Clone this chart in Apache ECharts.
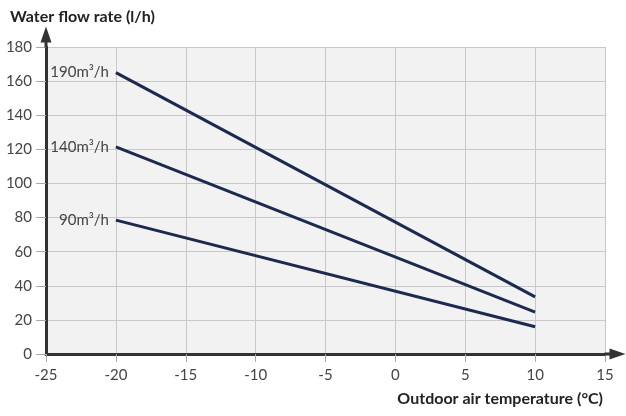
<!DOCTYPE html>
<html>
<head>
<meta charset="utf-8">
<script src="https://cdn.jsdelivr.net/npm/echarts@6/dist/echarts.min.js"></script>
<style>html,body{margin:0;padding:0;background:#fff}#c{width:626px;height:416px}</style>
</head>
<body>
<div id="c"></div>
<script>
var temps = [-20, 10];
var flow190 = [165, 33.5];
var flow140 = [121.5, 24.5];
var flow90 = [78.5, 16];
var seriesNames = ['190m³/h', '140m³/h', '90m³/h'];
var yTitle = 'Water flow rate (l/h)';
var xTitle = 'Outdoor air temperature (°C)';

var FONT = 'Lato';
var lineColor = '#1c2a50';
var arrowPath = 'path://M5.5,0 L11,16 L7,16 L7,21 L4,21 L4,16 L0,16 Z';

function mk(name, vals) {
  return {
    type: 'line', name: name,
    data: temps.map(function (t, i) {
      var d = { value: [t, vals[i]] };
      if (i === 0) d.label = { show: true, position: 'left', distance: 7, formatter: name, color: '#444', fontSize: 15, fontFamily: FONT };
      return d;
    }),
    symbol: 'circle', symbolSize: 0, showSymbol: true,
    label: { show: false },
    lineStyle: { color: lineColor, width: 3 },
    itemStyle: { color: lineColor },
    silent: true, animation: false
  };
}

var chart = echarts.init(document.getElementById('c'));
chart.setOption({
  animation: false,
  title: [
    { text: yTitle, left: 5, top: 4, textStyle: { fontFamily: FONT, fontWeight: 'bold', fontSize: 16, color: '#222' } },
    { text: xTitle, right: 18, top: 386, textStyle: { fontFamily: FONT, fontWeight: 'bold', fontSize: 16, color: '#222' } }
  ],
  grid: { left: 46, right: 21, top: 47, bottom: 62, show: true, backgroundColor: '#f2f2f2', borderWidth: 0 },
  xAxis: {
    type: 'value', min: -25, max: 15, interval: 5,
    axisLine: { show: true, onZero: false, lineStyle: { color: '#333', width: 3 }, symbol: ['none', arrowPath], symbolSize: [12, 21], symbolOffset: [0, 10] },
    axisTick: { show: true, length: 8, lineStyle: { color: '#aaa', width: 1 } },
    axisLabel: { color: '#444', fontSize: 15, fontFamily: FONT, margin: 14 },
    splitLine: { show: true, lineStyle: { color: '#c8c8c8', width: 1 } }
  },
  yAxis: {
    type: 'value', min: 0, max: 180, interval: 20,
    axisLine: { show: true, onZero: false, lineStyle: { color: '#333', width: 3 }, symbol: ['none', arrowPath], symbolSize: [11, 21], symbolOffset: [0, 10] },
    axisTick: { show: true, length: 10, lineStyle: { color: '#aaa', width: 1 } },
    axisLabel: { color: '#444', fontSize: 15, fontFamily: FONT, margin: 14 },
    splitLine: { show: true, lineStyle: { color: '#c8c8c8', width: 1 } }
  },
  series: [mk(seriesNames[0], flow190), mk(seriesNames[1], flow140), mk(seriesNames[2], flow90)]
});
</script>
</body>
</html>
